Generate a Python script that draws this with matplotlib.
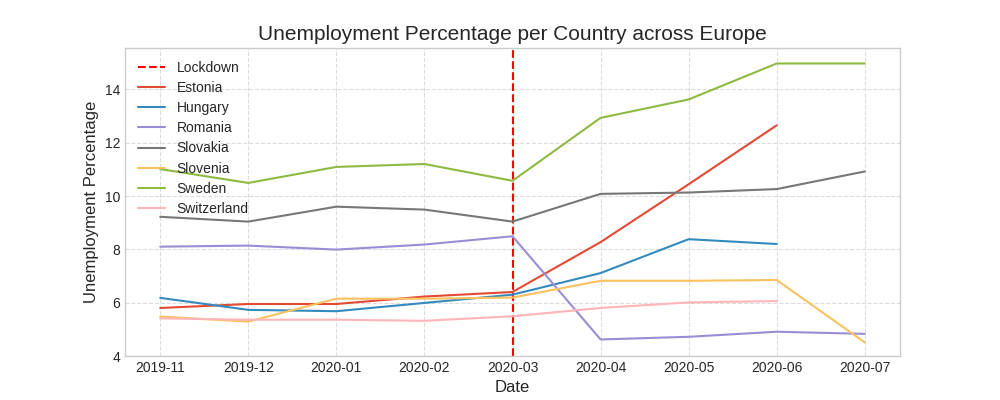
import matplotlib
matplotlib.use("Agg")
import matplotlib.pyplot as plt

# Data (unemployment %, monthly)
dates = ["2019-11", "2019-12", "2020-01", "2020-02", "2020-03",
         "2020-04", "2020-05", "2020-06", "2020-07"]
estonia = [5.80, 5.95, 5.95, 6.23, 6.40, 8.27, 10.44, 12.65]
hungary = [6.18, 5.73, 5.68, 5.99, 6.30, 7.11, 8.38, 8.20]
romania = [8.10, 8.14, 7.99, 8.18, 8.49, 4.62, 4.72, 4.91, 4.83]
slovakia = [9.22, 9.04, 9.60, 9.49, 9.04, 10.08, 10.13, 10.26, 10.92]
slovenia = [5.48, 5.29, 6.15, 6.15, 6.19, 6.82, 6.82, 6.85, 4.51]
sweden = [11.01, 10.49, 11.09, 11.20, 10.57, 12.93, 13.62, 14.97, 14.97]
switzerland = [5.41, 5.36, 5.36, 5.32, 5.49, 5.80, 6.01, 6.06]
lockdown = "2020-03"

series = [("Estonia", estonia), ("Hungary", hungary), ("Romania", romania),
          ("Slovakia", slovakia), ("Slovenia", slovenia), ("Sweden", sweden),
          ("Switzerland", switzerland)]
colors = ["#E24A33", "#348ABD", "#988ED5", "#777777", "#FBC15E", "#8EBA42", "#FFB5B8"]

plt.style.use("seaborn-v0_8-whitegrid")
plt.rcParams["grid.linestyle"] = "--"
plt.rcParams["grid.color"] = "#dcdcdc"
plt.rcParams["grid.linewidth"] = 0.8
plt.rcParams["font.family"] = ["Liberation Sans", "DejaVu Sans"]

fig, ax = plt.subplots(figsize=(10, 4), dpi=100)
ax.plot(dates, [None] * len(dates), alpha=0)  # category order
ax.axvline(dates.index(lockdown), color="red", linestyle="--", linewidth=1.5, label="Lockdown")
for (name, vals), c in zip(series, colors):
    ax.plot(dates[:len(vals)], vals, color=c, linewidth=1.5, label=name)

for s in ax.spines.values():
    s.set_visible(True)
    s.set_color("#cccccc")
ax.set_ylim(4, 15.55)
ax.set_title("Unemployment Percentage per Country across Europe", fontsize=15)
ax.set_xlabel("Date", fontsize=12)
ax.set_ylabel("Unemployment Percentage", fontsize=12)
ax.tick_params(labelsize=10, colors="#262626")
ax.legend(loc="upper left", fontsize=10, labelspacing=0.45)

plt.savefig("out.png", dpi=100)
